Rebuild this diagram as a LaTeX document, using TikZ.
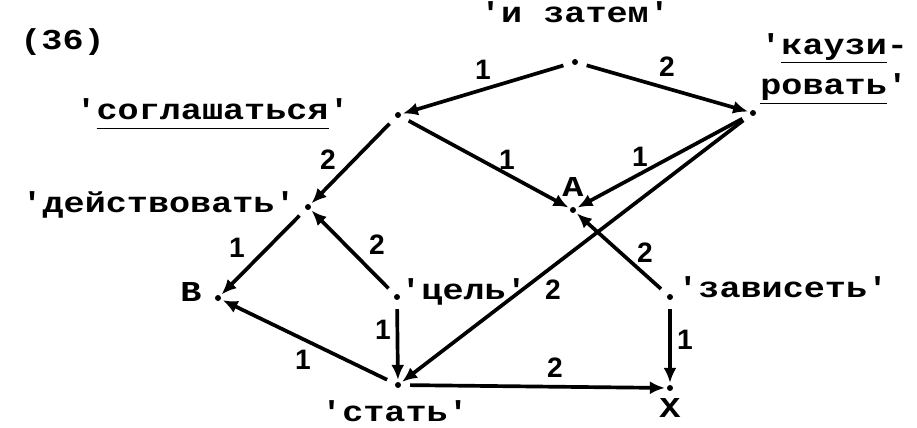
\documentclass[tikz,border=0pt]{standalone}
\usepackage{fontspec}
\usepackage{graphicx}
\newfontfamily\lblfont{Liberation Mono}
\newfontfamily\numfont{Liberation Sans}
\usetikzlibrary{arrows.meta}
\newcommand{\ul}[1]{\underline{#1\vphantom{y}}}
\newcommand{\sqz}[1]{\scalebox{1}[0.82]{#1}}

\begin{document}
\begin{tikzpicture}[
  x=0.02cm,
  y=-0.02cm,
  >=Latex,
  line/.style={draw=black,line width=2.1pt},
  arrow/.style={line,-{Latex[length=0.3cm,width=0.26cm]},shorten <=4pt},
  pt/.style={circle,fill=black,inner sep=0pt,minimum size=0.12cm,outer sep=1.2pt},
  word/.style={font=\lblfont\bfseries\fontsize{20}{23}\selectfont,inner sep=0pt},
  num/.style={font=\numfont\bfseries\fontsize{16}{18}\selectfont,inner sep=0pt}
]
\useasboundingbox (0,0) rectangle (917,428);

% Dots
\node[pt] (zatem) at (575,62) {};
\node[pt] (soglas) at (398,115) {};
\node[pt] (kauz) at (753,113) {};
\node[pt] (A) at (573,210) {};
\node[pt] (dejstv) at (308,207) {};
\node[pt] (B) at (218,298) {};
\node[pt] (cel) at (397,297) {};
\node[pt] (stat) at (398,385) {};
\node[pt] (zavis) at (670,297) {};
\node[pt] (X) at (670,388) {};

% Words
\node[word,anchor=base west] (nomer) at (20,50) {\sqz{(36)}};
\node[word,anchor=base] (tzatem) at (575,23) {\sqz{'и затем'}};
\node[word,anchor=base east] (tsoglas) at (350,120) {\sqz{'\ul{соглашаться}'}};
\node[word,anchor=base west,align=left] (tkauz) at (760,95) {\sqz{'\ul{каузи}-}\\\sqz{\ul{ровать}'}};
\node[word,anchor=base east] (tdejstv) at (296,213) {\sqz{'действовать'}};
\node[word,anchor=base] (tA) at (573,197) {\sqz{A}};
\node[word,anchor=base] (tB) at (191,302) {\sqz{B}};
\node[word,anchor=base west] (tcel) at (400,300) {\sqz{'цель'}};
\node[word,anchor=base] (tstat) at (395,422) {\sqz{'стать'}};
\node[word,anchor=base west] (tzavis) at (677,298) {\sqz{'зависеть'}};
\node[word,anchor=base] (tX) at (670,418) {\sqz{X}};

% Arrows
\draw[arrow] (zatem) -- (soglas);
\draw[arrow] (zatem) -- (kauz);
\draw[arrow] (soglas) -- (A);
\draw[arrow] (soglas) -- (dejstv);
\draw[arrow] (kauz) -- (A);
\draw[arrow] (kauz) -- (stat);
\draw[arrow] (dejstv) -- (B);
\draw[arrow] (cel) -- (dejstv);
\draw[arrow] (cel) -- (stat);
\draw[arrow] (stat) -- (B);
\draw[arrow] (zavis) -- (A);
\draw[arrow] (zavis) -- (X);
\draw[arrow] (stat) -- (X);

% Argument numbers
\node[num] (n1) at (483,70) {1};
\node[num] (n2) at (667,67) {2};
\node[num] (n3) at (507,160) {1};
\node[num] (n4) at (640,157) {1};
\node[num] (n5) at (328,160) {2};
\node[num] (n6) at (237,248) {1};
\node[num] (n7) at (377,245) {2};
\node[num] (n8) at (383,330) {1};
\node[num] (n9) at (303,360) {1};
\node[num] (n10) at (553,290) {2};
\node[num] (n11) at (645,253) {2};
\node[num] (n12) at (555,368) {2};
\node[num] (n13) at (685,340) {1};

\end{tikzpicture}
\end{document}
